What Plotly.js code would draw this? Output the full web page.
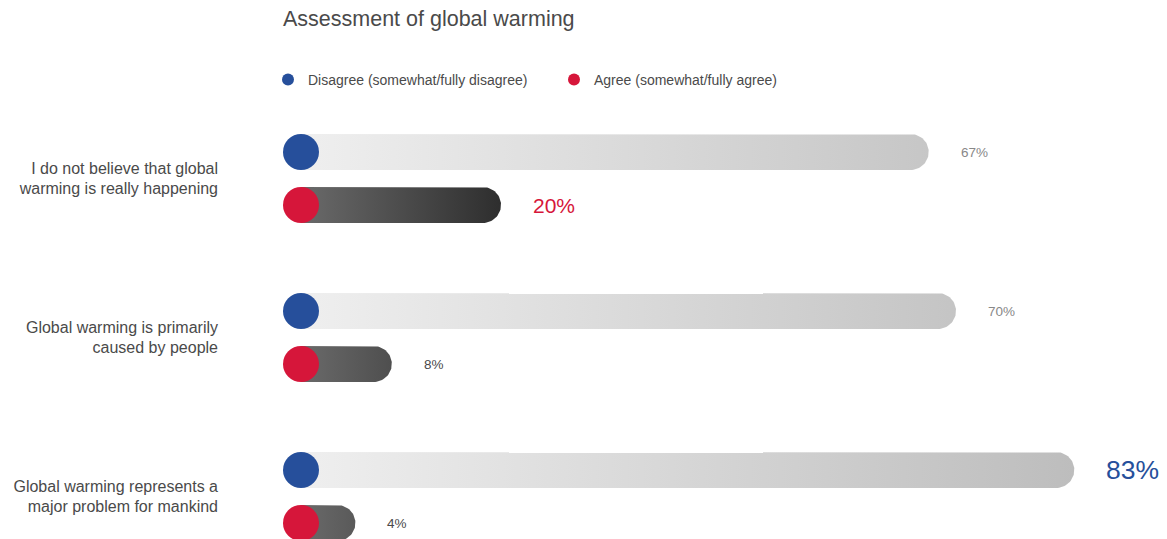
<!DOCTYPE html>
<html>
<head>
<meta charset="utf-8">
<script src="https://cdn.plot.ly/plotly-3.0.1.min.js"></script>
<style>html,body{margin:0;padding:0;background:#fff;}#chart{width:1167px;height:539px;}</style>
</head>
<body>
<div id="chart"></div>
<script>
// ---- data ----
const chartTitle = 'Assessment of global warming';
const categories = [
  'I do not believe that global<br>warming is really happening',
  'Global warming is primarily<br>caused by people',
  'Global warming represents a<br>major problem for mankind'
];
const seriesNames = ['Disagree (somewhat/fully disagree)', 'Agree (somewhat/fully agree)'];
const disagreeValues = [67, 70, 83];
const agreeValues = [20, 8, 4];

// ---- styles ----
const FONT = '"Liberation Sans", Arial, Helvetica, sans-serif';
const BLUE = '#264f9b';
const RED = '#d6163a';
const disagreeGradient = ['#efefef', '#bdbdbd'];
const agreeGradient = ['#6a6a6a', '#2e2e2e'];
const disagreeLabelStyle = [
  {size: 13.5, color: '#888888'}, {size: 13.5, color: '#888888'}, {size: 26.5, color: BLUE}
];
const agreeLabelStyle = [
  {size: 21, color: RED}, {size: 13.5, color: '#4a4a4a'}, {size: 13.5, color: '#4a4a4a'}
];

// ---- geometry (pixel scale of the axes) ----
const W = 1167, H = 539;
const M = {l: 219, r: 0, t: 100, b: 0};
const K = 9.1;         // px per percent
const X0 = 301;        // pixel of value 0
const PY = 159;        // px per category
const Y0 = 178.5;      // pixel of first category
const R = 18;          // bar radius px
const OFF = 26.5 / PY; // offset of each bar from category centre
const xRange = [(M.l - X0) / K, (W - M.r - X0) / K];
const yRange = [(H - M.b - Y0) / PY, (M.t - Y0) / PY]; // reversed
const rx = R / K, ry = R / PY;

function pill(v, c) {
  const xs = [0, v], ys = [c - ry, c - ry];
  const n = 40;
  for (let i = 0; i <= n; i++) {
    const t = -Math.PI / 2 + Math.PI * i / n;
    xs.push(v + rx * Math.cos(t));
    ys.push(c + ry * Math.sin(t));
  }
  xs.push(0); ys.push(c + ry);
  xs.push(0); ys.push(c - ry);
  return {xs, ys};
}

const traces = [];
const annotations = [];
const series = [
  {vals: disagreeValues, off: -OFF, grad: disagreeGradient, color: BLUE, lab: disagreeLabelStyle},
  {vals: agreeValues, off: OFF, grad: agreeGradient, color: RED, lab: agreeLabelStyle}
];
series.forEach((s, si) => {
  const maxV = Math.max(...s.vals);
  s.vals.forEach((v, i) => {
    const p = pill(v, i + s.off);
    traces.push({
      type: 'scatter', mode: 'lines', x: p.xs, y: p.ys,
      fill: 'toself',
      fillgradient: {type: 'horizontal', colorscale: [[0, s.grad[0]], [1, s.grad[1]]], start: 0, stop: maxV + rx},
      line: {width: 0, color: 'rgba(0,0,0,0)'},
      showlegend: false, hoverinfo: 'skip'
    });
    annotations.push({
      x: v, y: i + s.off, xref: 'x', yref: 'y', xanchor: 'left', yanchor: 'middle',
      xshift: R + 30, showarrow: false, text: v + '%',
      font: {family: FONT, size: s.lab[i].size, color: s.lab[i].color}
    });
  });
  traces.push({
    type: 'scatter', mode: 'markers',
    x: s.vals.map(() => 0), y: s.vals.map((v, i) => i + s.off),
    marker: {size: 2 * R, color: s.color, line: {width: 0}},
    showlegend: false, hoverinfo: 'skip', cliponaxis: false
  });
  traces.push({
    type: 'scatter', mode: 'markers', x: [null], y: [null], name: seriesNames[si],
    marker: {size: 12, color: s.color}, showlegend: true
  });
});

const layout = {
  width: W, height: H, margin: M,
  paper_bgcolor: '#fff', plot_bgcolor: '#fff',
  font: {family: FONT, color: '#4a4a4a'},
  title: {text: chartTitle, x: 283 / W, xanchor: 'left', xref: 'container',
          y: 1 - 18 / H, yanchor: 'middle', yref: 'container',
          font: {family: FONT, size: 21.5, color: '#4a4a4a'}},
  showlegend: true,
  legend: {orientation: 'h', x: (268 - M.l) / (W - M.l - M.r), xanchor: 'left',
           y: 1 + (M.t - 80) / (H - M.t - M.b), yanchor: 'middle',
           entrywidth: 241, entrywidthmode: 'pixels',
           font: {family: FONT, size: 14, color: '#4a4a4a'}, bgcolor: 'rgba(0,0,0,0)'},
  xaxis: {range: xRange, visible: false, fixedrange: true},
  yaxis: {range: yRange, tickvals: categories.map((c, i) => i), ticktext: categories,
          showgrid: false, zeroline: false, showline: false, ticks: '',
          tickfont: {family: FONT, size: 16, color: '#4a4a4a'}, fixedrange: true, automargin: false},
  annotations: annotations,
  hovermode: false
};

Plotly.newPlot('chart', traces, layout, {displayModeBar: false, staticPlot: true});
</script>
</body>
</html>
